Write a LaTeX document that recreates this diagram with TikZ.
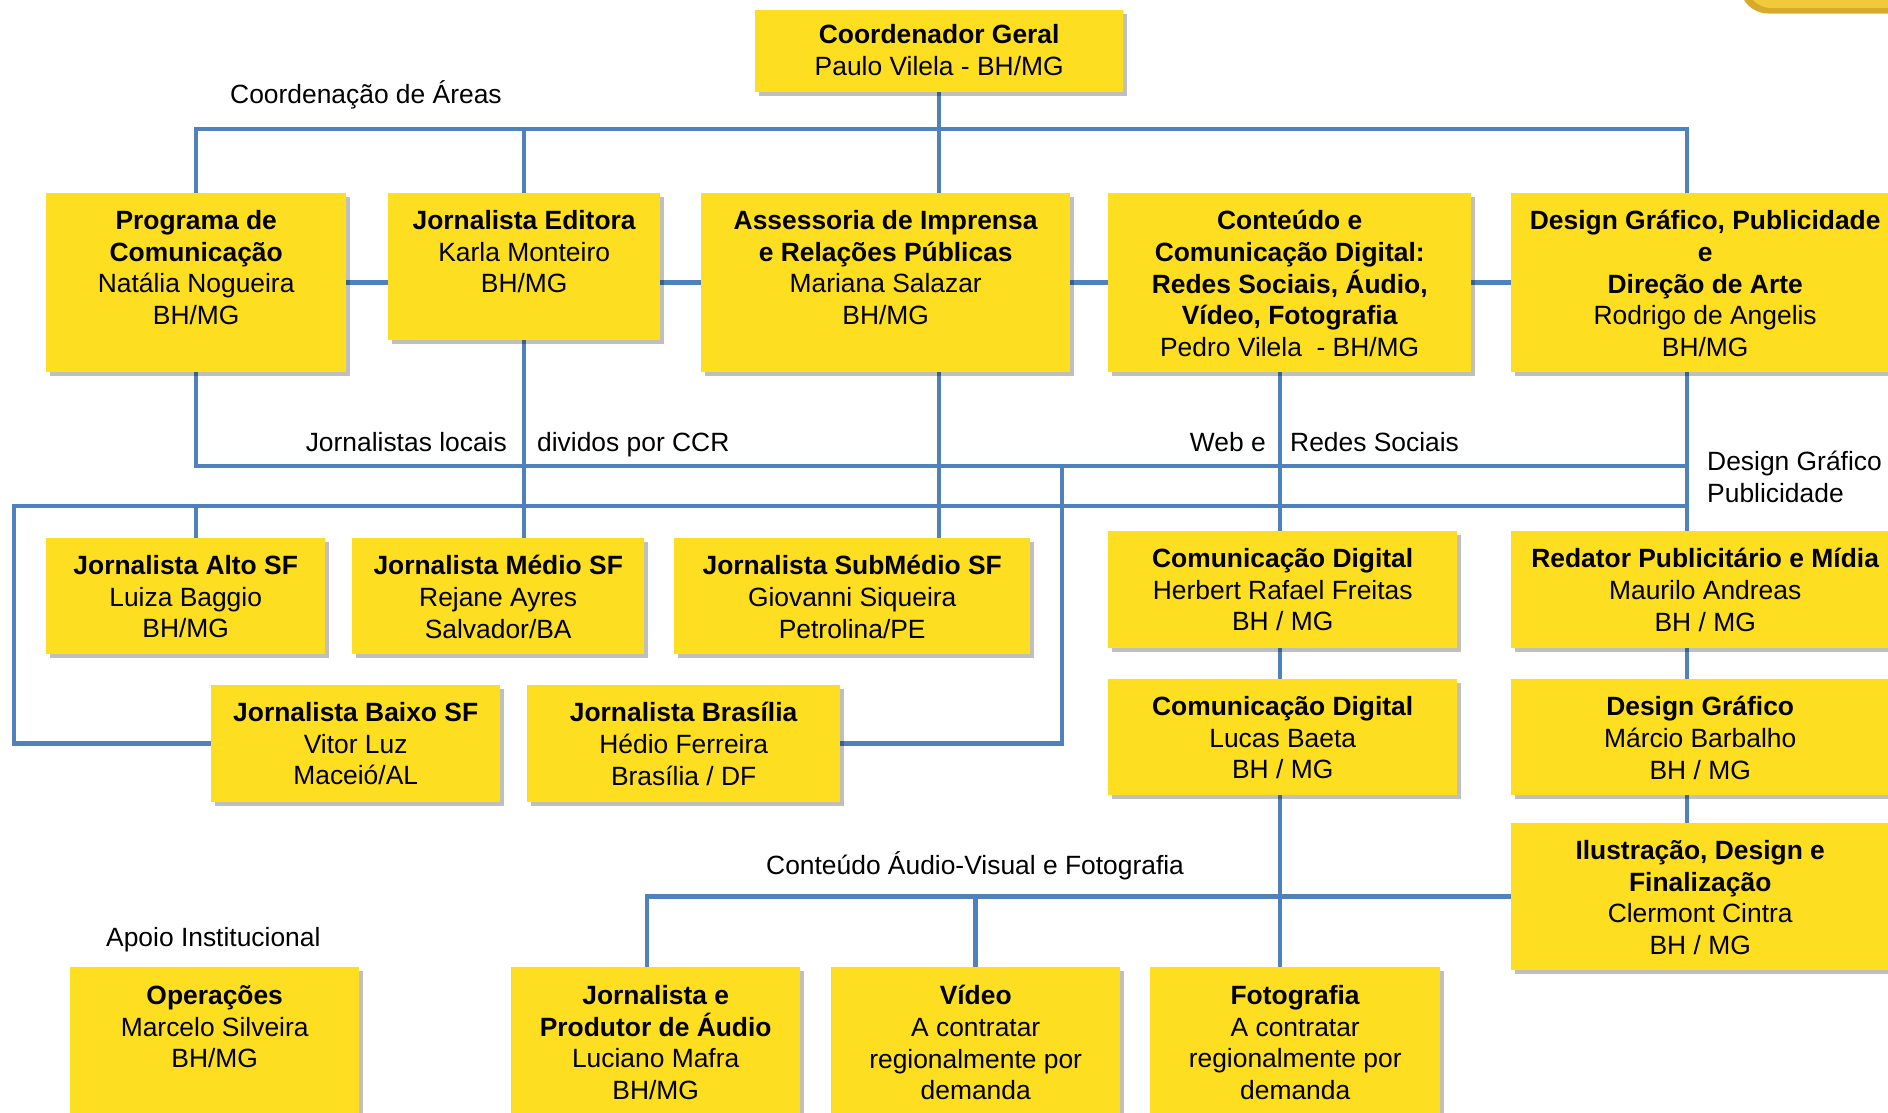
\documentclass[tikz,border=0pt]{standalone}
\usepackage{fontspec}
\setmainfont{Liberation Sans}
\usepackage{tikz}
\usetikzlibrary{positioning, backgrounds, shadows}

\definecolor{boxyellow}{HTML}{FEDE21}
\definecolor{lineblue}{HTML}{4F81BD}
\definecolor{goldedge}{HTML}{D8AA2C}
\definecolor{goldfill}{HTML}{F1C93B}

\newcommand{\orgfont}{\fontsize{26.4}{31.8}\selectfont}

\tikzset{
    orgbox/.style={fill=boxyellow, inner sep=0pt, anchor=north west,
        drop shadow={shadow xshift=4pt, shadow yshift=-4pt, opacity=0.25, fill=black}},
    orgtext/.style={align=center, inner sep=0pt, font=\orgfont},
    conn/.style={draw=lineblue, line width=4.5pt},
    note/.style={inner sep=0pt, font=\orgfont},
}

\begin{document}
\begin{tikzpicture}[x=1pt, y=-1pt]
    \useasboundingbox (0,0) rectangle (1888,1112);

    % Corner tab
    \fill[goldedge, rounded corners=28pt] (1740,-60) rectangle (1960,13.5);
    \fill[goldfill, rounded corners=24pt] (1747,-60) rectangle (1960,8);

    % Bus positions
    \coordinate (topbus) at (0,129);
    \coordinate (locbus) at (0,466);
    \coordinate (regbus) at (0,506);
    \coordinate (lcol) at (14,0);
    \coordinate (acol) at (647,0);
    \coordinate (bcol) at (1062,0);
    \coordinate (ccol) at (1280,0);
    \coordinate (dcol) at (1687,0);

    % Coordinator
    \node[orgbox, minimum width=368, minimum height=82] (coord) at (755,10) {};
    \node[orgtext, below=14.5pt of coord.north] (coordT) {\textbf{Coordenador Geral}\\Paulo Vilela - BH/MG};

    % Areas
    \node[orgbox, minimum width=300, minimum height=179] (prog) at (46,193) {};
    \node[orgtext, below=17pt of prog.north] (progT) {\textbf{Programa de}\\\textbf{Comunicação}\\Natália Nogueira\\BH/MG};

    \node[orgbox, minimum width=272, minimum height=147] (edit) at (388,193) {};
    \node[orgtext, below=17pt of edit.north] (editT) {\textbf{Jornalista Editora}\\Karla Monteiro\\BH/MG};

    \node[orgbox, minimum width=369, minimum height=179] (assess) at (701,193) {};
    \node[orgtext, below=17pt of assess.north] (assessT) {\textbf{Assessoria de Imprensa}\\\textbf{e Relações Públicas}\\Mariana Salazar\\BH/MG};

    \node[orgbox, minimum width=363, minimum height=179] (cont) at (1108,193) {};
    \node[orgtext, below=17pt of cont.north] (contT) {\textbf{Conteúdo e}\\\textbf{Comunicação Digital:}\\\textbf{Redes Sociais, Áudio,}\\\textbf{Vídeo, Fotografia}\\Pedro Vilela\ \ - BH/MG};

    \node[orgbox, minimum width=388, minimum height=179] (design) at (1511,193) {};
    \node[orgtext, below=17pt of design.north] (designT) {\textbf{Design Gráfico, Publicidade}\\\textbf{e}\\\textbf{Direção de Arte}\\Rodrigo de Angelis\\BH/MG};

    % Local journalists
    \node[orgbox, minimum width=279, minimum height=116] (alto) at (46,538) {};
    \node[orgtext, below=17pt of alto.north] (altoT) {\textbf{Jornalista Alto SF}\\Luiza Baggio\\BH/MG};

    \node[orgbox, minimum width=292, minimum height=116] (medio) at (352,538) {};
    \node[orgtext, below=17pt of medio.north] (medioT) {\textbf{Jornalista Médio SF}\\Rejane Ayres\\Salvador/BA};

    \node[orgbox, minimum width=356, minimum height=116] (submedio) at (674,538) {};
    \node[orgtext, below=17pt of submedio.north] (submedioT) {\textbf{Jornalista SubMédio SF}\\Giovanni Siqueira\\Petrolina/PE};

    \node[orgbox, minimum width=289, minimum height=117] (baixo) at (211,685) {};
    \node[orgtext, below=17pt of baixo.north] (baixoT) {\textbf{Jornalista Baixo SF}\\Vitor Luz\\Maceió/AL};

    \node[orgbox, minimum width=313, minimum height=117] (brasilia) at (527,685) {};
    \node[orgtext, below=17pt of brasilia.north] (brasiliaT) {\textbf{Jornalista Brasília}\\Hédio Ferreira\\Brasília / DF};

    % Web and social media
    \node[orgbox, minimum width=349, minimum height=117] (comdigA) at (1108,531) {};
    \node[orgtext, below=17pt of comdigA.north] (comdigAT) {\textbf{Comunicação Digital}\\Herbert Rafael Freitas\\BH / MG};

    \node[orgbox, minimum width=349, minimum height=116] (comdigB) at (1108,679) {};
    \node[orgtext, below=17pt of comdigB.north] (comdigBT) {\textbf{Comunicação Digital}\\Lucas Baeta\\BH / MG};

    % Graphic design
    \node[orgbox, minimum width=388, minimum height=117] (redator) at (1511,531) {};
    \node[orgtext, below=17pt of redator.north] (redatorT) {\textbf{Redator Publicitário e Mídia}\\Maurilo Andreas\\BH / MG};

    \node[orgbox, minimum width=378, minimum height=116] (marcio) at (1511,679) {};
    \node[orgtext, below=17pt of marcio.north] (marcioT) {\textbf{Design Gráfico}\\Márcio Barbalho\\BH / MG};

    \node[orgbox, minimum width=378, minimum height=147] (ilustr) at (1511,823) {};
    \node[orgtext, below=17pt of ilustr.north] (ilustrT) {\textbf{Ilustração, Design e}\\\textbf{Finalização}\\Clermont Cintra\\BH / MG};

    % Bottom row
    \node[orgbox, minimum width=289, minimum height=200] (oper) at (70,967) {};
    \node[orgtext, below=18pt of oper.north] (operT) {\textbf{Operações}\\Marcelo Silveira\\BH/MG};

    \node[orgbox, minimum width=289, minimum height=200] (audio) at (511,967) {};
    \node[orgtext, below=18pt of audio.north] (audioT) {\textbf{Jornalista e}\\\textbf{Produtor de Áudio}\\Luciano Mafra\\BH/MG};

    \node[orgbox, minimum width=289, minimum height=200] (video) at (831,967) {};
    \node[orgtext, below=18pt of video.north] (videoT) {\textbf{Vídeo}\\A contratar\\regionalmente por\\demanda};

    \node[orgbox, minimum width=290, minimum height=200] (foto) at (1150,967) {};
    \node[orgtext, below=18pt of foto.north] (fotoT) {\textbf{Fotografia}\\A contratar\\regionalmente por\\demanda};

    % Free labels
    \node[note, anchor=base west] (areas) at (230,103.5) {Coordenação de Áreas};
    \node[note, anchor=base east] (locais) at (507,451.5) {Jornalistas locais};
    \node[note, anchor=base west] (ccr) at (537,451.5) {dividos por CCR};
    \node[note, anchor=base east] (webe) at (1266,451.5) {Web e};
    \node[note, anchor=base west] (redes) at (1290,451.5) {Redes Sociais};
    \node[note, anchor=base west] (dgrafA) at (1707,470) {Design Gráfico};
    \node[note, anchor=base west] (dgrafB) at (1707,502) {Publicidade};
    \node[note, anchor=base west] (av) at (766,874.5) {Conteúdo Áudio-Visual e Fotografia};
    \node[note, anchor=base west] (apoio) at (106,946.5) {Apoio Institucional};

    \begin{scope}[on background layer]
        % Coordenação de Áreas
        \draw[conn] (coord.south) -- (assess.north -| coord.south);
        \draw[conn] (prog.north) |- (topbus -| dcol) -- (design.north -| dcol);
        \draw[conn] (edit.north) -- (edit.north |- topbus);
        \draw[conn] (prog.east) -- (design.west);

        % Jornalistas locais
        \draw[conn] (prog.south) |- (locbus -| dcol);
        \draw[conn] (regbus -| dcol) -- (regbus -| lcol) |- (baixo.west);
        \draw[conn] (prog.south |- regbus) -- (alto.north -| prog.south);
        \draw[conn] (edit.south) -- (medio.north -| edit.south);
        \draw[conn] (assess.south -| coord.south) -- (submedio.north -| coord.south);
        \draw[conn] (locbus -| bcol) |- (brasilia.east);

        % Web, design columns
        \draw[conn] (cont.south -| ccol) -- (foto.north -| ccol);
        \draw[conn] (design.south -| dcol) -- (ilustr.north -| dcol);

        % Audio-visual
        \draw[conn] (ilustr.west) -| (audio.north -| acol);
        \draw[conn] (video.north) -- (video.north |- ilustr.west);
    \end{scope}
\end{tikzpicture}
\end{document}
